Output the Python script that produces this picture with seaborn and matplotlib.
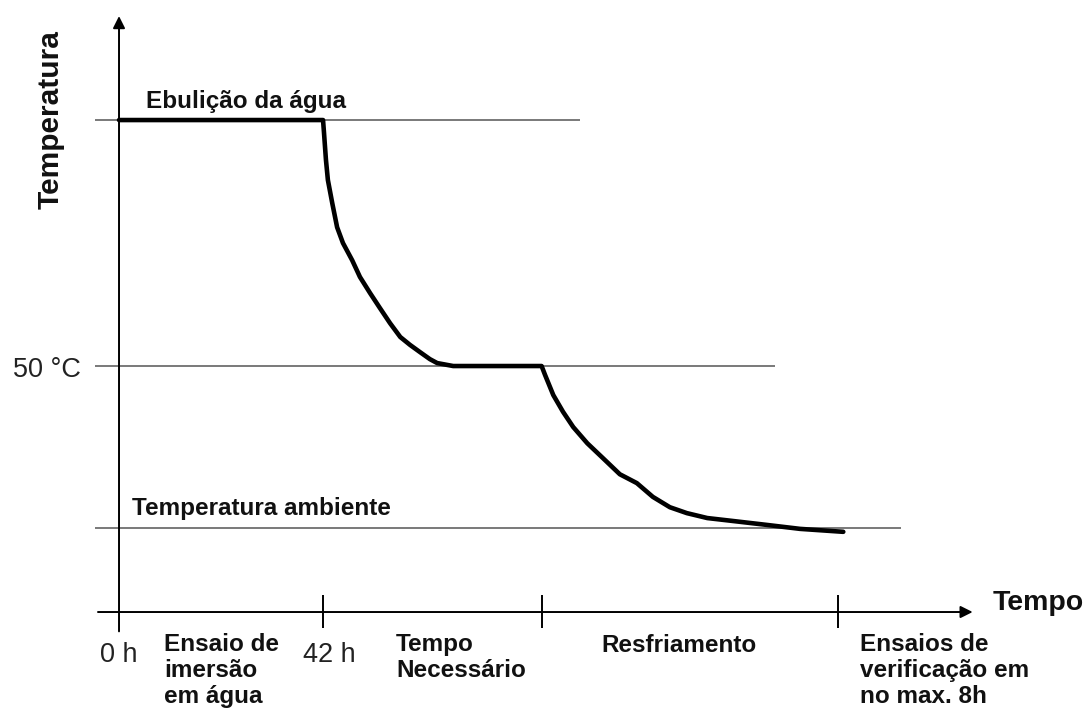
import numpy as np
import pandas as pd
import seaborn as sns
import matplotlib.pyplot as plt

# temperature profile (time in h, temperature in degC)
tempo = [0, 42, 42.2, 42.6, 43.0, 43.9, 44.9, 46.1, 48.0, 49.6, 51.7, 53.7, 55.8, 57.9,
         59.9, 62.0, 64.0, 65.5, 68.8, 87, 87.7, 89.4, 91.4, 93.5, 96.4, 99.6, 103.1,
         106.6, 109.9, 113.4, 116.9, 121.1, 126.4, 133.4, 140.2, 149.1]
temperatura = [100, 100, 97.4, 91.9, 87.8, 83.1, 78.2, 75.0, 71.5, 68.1, 64.8, 61.8, 58.7,
               55.9, 54.3, 52.8, 51.4, 50.6, 50.0, 50, 48.2, 44.1, 40.7, 37.6, 34.3, 31.3,
               28.0, 26.2, 23.4, 21.3, 20.1, 19.1, 18.5, 17.7, 16.9, 16.3]

# reference levels and how far their lines run
niveis = [100, 50, 17]
niveis_fim = [95, 135, 161]
marcas = [42, 87, 148]

sns.set_theme(style="white")
plt.rcParams['font.family'] = ['Liberation Sans', 'DejaVu Sans']

fig = plt.figure(figsize=(10.92, 7.14), dpi=100)
ax = fig.add_axes([0, 0, 1, 1])

# reference lines
ax.hlines(niveis, -4.9, niveis_fim, color='#555555', lw=1.1)

# axes with arrows
ax.annotate('', xy=(176.3, 0), xytext=(-4.9, 0),
            arrowprops=dict(arrowstyle='-|>', color='black', lw=1.4, mutation_scale=18))
ax.annotate('', xy=(0, 121.7), xytext=(0, -4.5),
            arrowprops=dict(arrowstyle='-|>', color='black', lw=1.4, mutation_scale=18))
ax.vlines(marcas, -3.3, 3.5, color='black', lw=1.4)

# curve
df = pd.DataFrame({'tempo': tempo, 'temperatura': temperatura})
sns.lineplot(data=df, x='tempo', y='temperatura', sort=False, estimator=None,
             color='black', lw=3.3, ax=ax)
ax.set_xlim(-24.5, 200.3)
ax.set_ylim(-20.73, 124.4)
ax.set_axis_off()

bold = dict(fontsize=17.5, fontweight='bold', color='#111111')
reg = dict(fontsize=19.5, color='#222222')

ax.text(-14.0, 100.0, 'Temperatura', rotation=90, ha='center', va='center',
        fontsize=21.5, fontweight='bold', color='#111111')
ax.text(5.6, 102.4, 'Ebulição da água', ha='left', va='baseline', **bold)
ax.text(2.7, 19.7, 'Temperatura ambiente', ha='left', va='baseline', **bold)
ax.text(-7.8, 47.8, '50 °C', ha='right', va='baseline', **reg)
ax.text(0, -10.2, '0 h', ha='center', va='baseline', **reg)
ax.text(37.9, -10.2, '42 h', ha='left', va='baseline', **reg)

ax.text(9.3, -4.3, 'Ensaio de\nimersão\nem água', ha='left', va='top',
        linespacing=1.15, **bold)
ax.text(57.0, -4.3, 'Tempo\nNecessário', ha='left', va='top', linespacing=1.15, **bold)
ax.text(99.4, -8.1, 'Resfriamento', ha='left', va='baseline', **bold)
ax.text(152.5, -4.3, 'Ensaios de\nverificação em\nno max. 8h', ha='left', va='top',
        linespacing=1.15, **bold)
ax.text(179.9, 0.4, 'Tempo', ha='left', va='baseline',
        fontsize=20.5, fontweight='bold', color='#111111')

fig.savefig('out.png', dpi=100, facecolor='white')
